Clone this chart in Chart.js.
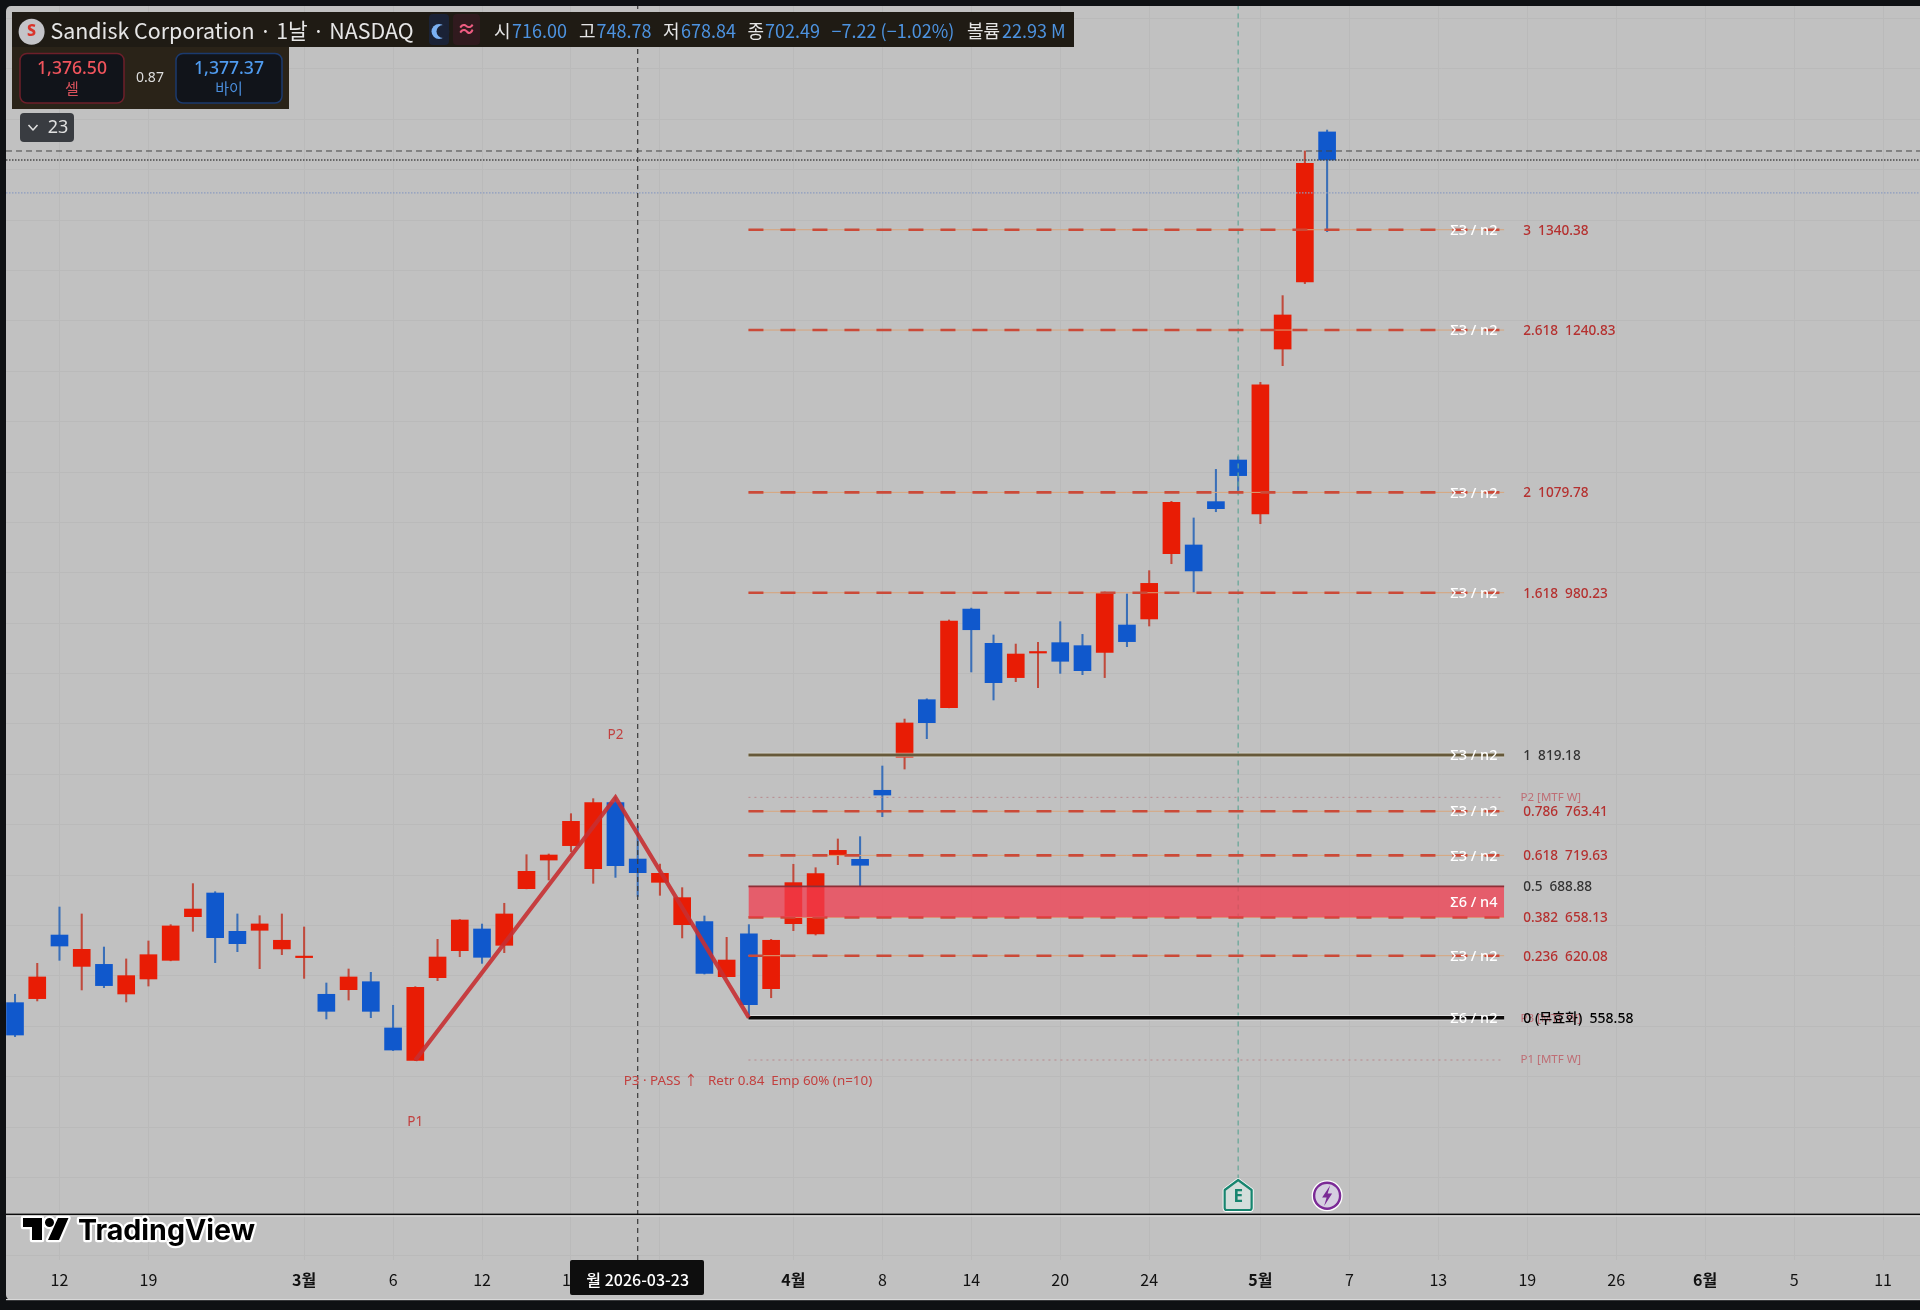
<!DOCTYPE html>
<html lang="ko"><head><meta charset="utf-8">
<style>html,body{margin:0;padding:0;background:#0f1114;width:1920px;height:1310px;overflow:hidden}
#wrap{position:absolute;left:0;top:0;width:1920px;height:1310px}</style>
<script src="https://cdn.jsdelivr.net/npm/chart.js@4/dist/chart.umd.min.js"></script>
</head><body><div id="wrap"><canvas id="c" width="1920" height="1310"></canvas></div>
<script>
const dates=['02-10','02-11','02-12','02-13','02-17','02-18','02-19','02-20','02-23','02-24','02-25','02-26','02-27','03-02','03-03','03-04','03-05','03-06','03-09','03-10','03-11','03-12','03-13','03-16','03-17','03-18','03-19','03-20','03-23','03-24','03-25','03-26','03-27','03-30','03-31','04-01','04-02','04-06','04-07','04-08','04-09','04-10','04-13','04-14','04-15','04-16','04-17','04-20','04-21','04-22','04-23','04-24','04-27','04-28','04-29','04-30','05-01','05-04','05-05','05-06'];
const opens=[573.5,577.5,640.6,609.5,611.5,582.1,597,615.5,658.8,682.3,644.3,645.3,626.8,618.2,581.8,586.4,594.3,548.4,516.3,598.3,625.1,646.6,630.4,686.6,715,729.3,706.4,771.9,716,692.9,650.9,653.9,599.3,641.9,587.4,651.9,641.6,719.7,715.7,784.2,816.9,874.1,866.2,964,930,896,920.4,930.7,927.7,921,948.2,954.2,1019,1027.6,1070.6,1111.9,1058.3,1222,1288.5,1437.4];
const highs=[581.8,612.5,668.4,661.5,628.7,616.9,634.7,650.9,691.6,683.6,661.5,659.8,661.5,648.6,593,606.9,603.6,570.9,589.4,636.3,656,651.5,672.1,720.3,721,761,775.9,777.2,748.78,711,687.6,659.5,638.3,650.9,636.3,710.8,707.4,735.9,738.2,808.3,854.9,875,953.2,965,938.3,929.3,931,951.5,938.9,981,979,1002.1,1070.9,1054.4,1102.6,1115.2,1189,1275,1418.5,1439.3];
const lows=[539.8,575.2,615.5,586.1,588.4,574.2,590,615,644.3,613.2,624.1,607.2,621.1,597.6,557.3,576.1,558.6,526,516,595.3,619.1,612.5,623.1,686.4,695.2,723.3,691.9,697.8,678.84,680,637.7,601.9,599,558.6,578.4,644.9,640.6,710.4,689.6,758,805.3,835.4,866,901.6,873.8,892,886,900.2,898.9,896,926.7,947.2,1009,980.3,1060.6,1079.2,1048.7,1205.5,1286.9,1338.5];
const closes=[541.4,599,629.7,626.4,590.4,600.3,621.1,649.6,666.4,638,632,651.6,635.4,618.8,564.9,599,564.9,526.5,588.7,618.8,655.5,618.5,661.5,703.8,720,753.4,771.9,709.4,702.49,701.8,677.7,602.6,615.8,571.5,635.4,692.6,701.5,724.6,709.8,779.5,851,851.3,952.2,943.5,891,919.4,921.4,912.2,902.9,979.3,931.7,989.5,1069.9,1001.8,1063.6,1096.4,1186.6,1255.8,1406.3,1409.6];

const tickIndex=[2,6,13,17,21,25,29,35,39,43,47,51,56,60,64,68,72,76,80,84];
const tickLabels=['12','19','3월','6','12','18','24','4월','8','14','20','24','5월','7','13','19','26','6월','5','11'];
const gridPrices=[323,400,450,500,550,600,650,700,750,800,850,900,950,1000,1050,1100,1150,1200,1250,1300,1350,1400,1450,1500,1550];

const levelRatios=['3','2.618','2','1.618','1','0.786','0.618','0.5','0.382','0.236','0 (무효화)'];
const levelPrices=[1340.38,1240.83,1079.78,980.23,819.18,763.41,719.63,688.88,658.13,620.08,558.58];
const levelSigma=['Σ3 / n2','Σ3 / n2','Σ3 / n2','Σ3 / n2','Σ3 / n2','Σ3 / n2','Σ3 / n2','','','Σ3 / n2','Σ6 / n2'];
const zigzagX=[18,27,33];
const zigzagP=[516.3,777.2,558.58];
const mtfP1=516.6, mtfP2=777.2;
const crosshairPrice=1418.5, lastClose=1409.6, livePrice=1376.9;
const crosshairIndex=28, earningsIndex=55, newsIndex=59;

const X0=-0.405, X1=85.66, Y0=318.18, Y1=1562.35;
const LX0=32.98, LX1=66.96;
const RED='#e81c05', BLUE='#1058cc', WRED='#c04a3c', WBLUE='#3a6fb8';
const FF='"Noto Sans","Noto Sans CJK KR",sans-serif';
const KF='"Noto Sans CJK KR","Noto Sans",sans-serif';
const GRID='#bababa';

const isUp=i=>closes[i]>=opens[i];
const wickData=dates.map((d,i)=>({x:i,y:[lows[i],highs[i]]}));
const bodyData=dates.map((d,i)=>({x:i,y:[Math.min(opens[i],closes[i]),Math.max(opens[i],closes[i])]}));
const hline=(p,a,b)=>[{x:a,y:p},{x:b,y:p}];
const L=(data,color,width,dash,order,extra)=>Object.assign({type:'line',data,borderColor:color,borderWidth:width,borderDash:dash||[],pointRadius:0,tension:0,fill:false,order,borderCapStyle:'butt'},extra||{});

const datasets=[
 {type:'bar',label:'wick',data:wickData,barThickness:1.4,backgroundColor:dates.map((d,i)=>isUp(i)?WRED:WBLUE),borderWidth:0,order:20,grouped:false},
 {type:'bar',label:'body',data:bodyData,barThickness:17,backgroundColor:dates.map((d,i)=>isUp(i)?RED:BLUE),borderWidth:0,order:19,grouped:false,minBarLength:1.5},
 L(hline(crosshairPrice,X0,X1),'#444444',1,[6,4],8),
 L(hline(lastClose,X0,X1),'#4a4a4a',1.4,[1.5,1.5],8),
 L(hline(livePrice,X0,X1),'#8c9cc0',1.2,[1.5,1.5],8),
 L([{x:crosshairIndex,y:Y0},{x:crosshairIndex,y:Y1}],'#3a3a3a',1.2,[5,4],7),
 L([{x:earningsIndex,y:398},{x:earningsIndex,y:Y1}],'#63a596',1.2,[5,4],7),
 L(hline(mtfP2,LX0,LX1),'#b8888c',1,[2,4],6),
 L(hline(mtfP1,LX0,LX1),'#b8888c',1,[2,4],6),
];
levelPrices.forEach((p,i)=>{
  const r=levelRatios[i];
  if(r==='1'){datasets.push(L(hline(p,LX0,LX1),'rgba(240,240,225,.6)',4.4,[],5));datasets.push(L(hline(p,LX0,LX1),'#66593a',3,[],4));}
  else if(r.startsWith('0 ')){datasets.push(L(hline(p,LX0,LX1),'rgba(245,245,245,.5)',5.4,[],5));datasets.push(L(hline(p,LX0,LX1),'#0d0b0a',3.6,[],4));}
  else if(r==='0.5'){}
  else{datasets.push(L(hline(p,LX0,LX1),'#d8a57c',1,[],5));datasets.push(L(hline(p,LX0,LX1),'#cb4a38',2.6,[15,17],4));}
});
const i05=levelRatios.indexOf('0.5'), i38=levelRatios.indexOf('0.382');
datasets.push(L(hline(levelPrices[i05],LX0,LX1),'#8e2f37',1.6,[],3,{fill:'+1',backgroundColor:'rgba(240,62,80,.76)'}));
datasets.push(L(hline(levelPrices[i38],LX0,LX1),'rgba(0,0,0,0)',0,[],3));
datasets.push(L(zigzagX.map((x,i)=>({x,y:zigzagP[i]})),'rgba(198,48,50,.9)',4.2,[],1,{borderJoinStyle:'miter'}));

function txt(ctx,s,x,y,font,color,align){ctx.font=font;ctx.fillStyle=color;ctx.textAlign=align||'left';ctx.textBaseline='middle';ctx.fillText(s,x,y);}
function rr(ctx,x,y,w,h,r,fill,stroke,lw){ctx.beginPath();ctx.roundRect(x,y,w,h,r);if(fill){ctx.fillStyle=fill;ctx.fill();}if(stroke){ctx.strokeStyle=stroke;ctx.lineWidth=lw||1;ctx.stroke();}}

const overlay={id:'overlay',
 beforeDraw(chart){const c=chart.ctx;c.save();
  c.fillStyle='#0f1114';c.fillRect(0,0,1920,1310);
  rr(c,6,6,1920,1294,5,'#c1c1c1');
  c.restore();},
 afterDatasetsDraw(chart){
  const c=chart.ctx,xs=chart.scales.x,ys=chart.scales.y;c.save();
  const RT='#b5302f';
  const sx=xs.getPixelForValue(65.6), tx=xs.getPixelForValue(67.82), px=xs.getPixelForValue(67.7);
  txt(c,'P3 [MTF W]',px,ys.getPixelForValue(558.58)+1,'11.5px '+FF,'rgba(190,80,90,.75)');
  txt(c,'P2 [MTF W]',px,ys.getPixelForValue(mtfP2),'11.5px '+FF,'rgba(190,80,90,.75)');
  txt(c,'P1 [MTF W]',px,ys.getPixelForValue(mtfP1),'11.5px '+FF,'rgba(190,80,90,.75)');
  levelPrices.forEach((p,i)=>{
    const r=levelRatios[i],y=ys.getPixelForValue(p)+1;
    if(levelSigma[i])txt(c,levelSigma[i],sx,y,'500 14.5px '+FF,'#ffffff','center');
    const zero=r.startsWith('0 ');
    const col=zero?'#000':(r==='1'||r==='0.5')?'#333':RT;
    txt(c,r+'  '+p.toFixed(2),tx,y,'500 '+(zero?'14px ':'13.6px ')+FF,col);
  });
  txt(c,'Σ6 / n4',sx,ys.getPixelForValue((levelPrices[i05]+levelPrices[i38])/2)+1,'500 14.5px '+FF,'#fff','center');
  const PC='#c2403f';
  txt(c,'P1',xs.getPixelForValue(zigzagX[0]),1122.5,'13.5px '+FF,PC,'center');
  txt(c,'P2',xs.getPixelForValue(zigzagX[1]),735,'13.5px '+FF,PC,'center');
  txt(c,'P3 · PASS ↑   Retr 0.84  Emp 60% (n=10)',xs.getPixelForValue(27.37),1081,'13.4px '+FF,PC);
  const ex=xs.getPixelForValue(earningsIndex), nx=xs.getPixelForValue(newsIndex);
  c.beginPath();c.moveTo(ex,1180);c.lineTo(ex+13.5,1190);c.lineTo(ex+13.5,1208);c.arcTo(ex+13.5,1210,ex+11,1210,2);c.lineTo(ex-11,1210);c.arcTo(ex-13.5,1210,ex-13.5,1208,2);c.lineTo(ex-13.5,1190);c.closePath();
  c.lineJoin='round';c.strokeStyle='#fff';c.lineWidth=4;c.stroke();c.strokeStyle='#17856f';c.lineWidth=2.2;c.fillStyle='#d3dedb';c.fill();c.stroke();
  txt(c,'E',ex,1197,'700 17px '+FF,'#17856f','center');
  c.beginPath();c.arc(nx,1195.7,15.5,0,7);c.fillStyle='#fff';c.fill();
  c.beginPath();c.arc(nx,1195.7,13,0,7);c.fillStyle='#d5cfe0';c.fill();c.strokeStyle='#7b2a96';c.lineWidth=2.4;c.stroke();
  c.beginPath();c.moveTo(nx+3,1185.5);c.lineTo(nx-5,1197.5);c.lineTo(nx-.5,1197.5);c.lineTo(nx-3,1206);c.lineTo(nx+5,1193.5);c.lineTo(nx+.5,1193.5);c.closePath();c.fillStyle='#7b2a96';c.fill();
  c.fillStyle='#0b0b0b';c.fillRect(6,1213.6,1914,1.7);c.fillStyle='#dcdcdc';c.fillRect(6,1215.3,1914,1.3);
  c.restore();},
 afterDraw(chart){
  const c=chart.ctx,xs=chart.scales.x;c.save();
  c.fillStyle='#d8d8d8';c.fillRect(6,1299,1914,1.2);
  rr(c,570,1260,134,35,2,'#0e0e0e');
  txt(c,'월 2026-03-23',xs.getPixelForValue(crosshairIndex),1280,'500 16px '+KF,'#fff','center');
  c.lineJoin='round';c.strokeStyle='#fff';c.lineWidth=4.5;c.fillStyle='#000';
  const logo=new Path2D();
  logo.moveTo(23,1218);logo.lineTo(42,1218);logo.lineTo(42,1240);logo.lineTo(32,1240);logo.lineTo(32,1227);logo.lineTo(23,1227);logo.closePath();
  logo.moveTo(54,1222.5);logo.arc(49.5,1222.5,4.5,0,7);logo.closePath();
  logo.moveTo(58,1218);logo.lineTo(68.5,1218);logo.lineTo(59,1240);logo.lineTo(48,1240);logo.closePath();
  c.stroke(logo);c.fill(logo);
  c.font='700 28.6px Inter,'+FF;c.textAlign='left';c.textBaseline='alphabetic';
  c.strokeText('TradingView',78,1240);c.fillText('TradingView',78,1240);
  c.fillStyle='#1f1b14';c.fillRect(12,12,1062,35);
  c.fillStyle='#2a2318';c.fillRect(12,47,277,62);
  c.beginPath();c.arc(31.6,31.7,13,0,7);c.fillStyle='#c4c4c8';c.fill();
  txt(c,'S',31.6,31.5,'800 16px '+FF,'#d9342b','center');
  txt(c,'Sandisk Corporation · 1날 · NASDAQ',50.5,31,'21.4px '+KF,'#e6e6e6');
  rr(c,429,14,20,31,4,'#1a2236');
  c.beginPath();c.arc(439,31.5,7.5,0,7);c.fillStyle='#7ab0f2';c.fill();
  c.beginPath();c.arc(443,31.5,6.5,0,7);c.fillStyle='#1a2236';c.fill();
  rr(c,453,14,27,31,4,'#301a1e');
  txt(c,'≈',466.5,31,'700 19px '+FF,'#ef5c82','center');
  const VB='#4d93e0',KW='#e6e6e6';
  [['시',494,KW],['716.00',512,VB],['고',579,KW],['748.78',596.5,VB],['저',663,KW],['678.84',681,VB],['종',747.4,KW],['702.49',765,VB],['−7.22 (−1.02%)',831.6,VB],['볼륨',967,KW],['22.93 M',1002,VB]]
   .forEach(a=>txt(c,a[0],a[1],31,'18px '+KF,a[2]));
  rr(c,20,53.5,104,49.5,7,'#11141a','#6d1f2a',1.5);
  rr(c,176,53.5,106,49.5,7,'#11141a','#1b3a6e',1.5);
  txt(c,'1,376.50',72,69,'500 17.6px '+FF,'#f0545c','center');
  txt(c,'셀',72,88.5,'15px '+KF,'#d9525c','center');
  txt(c,'1,377.37',229,69,'500 17.6px '+FF,'#4f9bef','center');
  txt(c,'바이',229,88.5,'15px '+KF,'#4a8ddb','center');
  txt(c,'0.87',150,78,'14px '+FF,'#dddddd','center');
  rr(c,20,113,54,29,4,'#393c41');
  c.strokeStyle='#e0e0e0';c.lineWidth=1.5;c.beginPath();c.moveTo(28.5,125);c.lineTo(33,130);c.lineTo(37.5,125);c.stroke();
  txt(c,'23',58,127.5,'18px '+FF,'#e0e0e0','center');
  c.restore();}
};

new Chart(document.getElementById('c'),{
 type:'bar',
 data:{labels:dates,datasets},
 plugins:[overlay],
 options:{
  responsive:false,animation:false,devicePixelRatio:1,
  layout:{padding:{left:6,top:6,right:0,bottom:0}},
  plugins:{legend:{display:false},tooltip:{enabled:false}},
  scales:{
   x:{type:'linear',min:X0,max:X1,offset:false,
      grid:{offset:false,color:GRID,lineWidth:1,drawTicks:false},border:{display:false},
      afterBuildTicks(s){s.ticks=tickIndex.map(v=>({value:v}));},
      afterFit(s){s.height=50;},
      ticks:{autoSkip:false,maxRotation:0,padding:10,color:'#111',
        font:ctx=>{const l=tickLabels[tickIndex.indexOf(ctx.tick?ctx.tick.value:-1)]||'';return {family:KF,size:16,weight:l.includes('월')?'700':'400'};},
        callback:v=>tickLabels[tickIndex.indexOf(v)]}},
   y:{type:'linear',display:true,min:Y0,max:Y1,
      grid:{color:GRID,lineWidth:1,drawTicks:false},border:{display:false},
      afterBuildTicks(s){s.ticks=gridPrices.map(v=>({value:v}));},
      afterFit(s){s.width=0;},
      ticks:{display:false}}
  }
 }
});
</script></body></html>
